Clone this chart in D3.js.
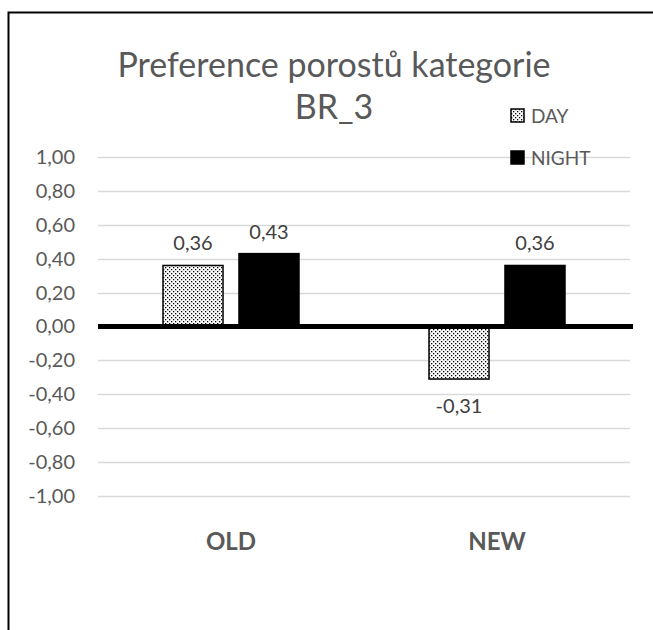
<!DOCTYPE html>
<html>
<head>
<meta charset="utf-8">
<script src="https://cdn.jsdelivr.net/npm/d3@7"></script>
<style>
  body { margin: 0; background: #fff; overflow: hidden; }
  svg { display: block; }
  text { font-family: Lato, "Open Sans", sans-serif; }
</style>
</head>
<body>
<div id="chart"></div>
<script>
// data
var categories = ["OLD", "NEW"];
var seriesNames = ["DAY", "NIGHT"];
var dayValues = [0.36, -0.31];
var nightValues = [0.43, 0.36];
var tickValues = [1, 0.8, 0.6, 0.4, 0.2, 0, -0.2, -0.4, -0.6, -0.8, -1];

var W = 653, H = 630;
var margin = { left: 98, right: 23, top: 157, bottom: 134 };
var width = W - margin.left - margin.right;
var height = 339;

var fmt = function(v) { return d3.format(".2f")(v).replace(".", ",").replace("\u2212", "-"); };

var svg = d3.select("#chart").append("svg")
  .attr("width", W)
  .attr("height", H);

// dotted fill
var defs = svg.append("defs");
var pat = defs.append("pattern")
  .attr("id", "dots")
  .attr("patternUnits", "userSpaceOnUse")
  .attr("width", 4).attr("height", 4);
pat.append("rect").attr("width", 4).attr("height", 4).attr("fill", "#fff");
pat.append("rect").attr("x", 0).attr("y", 0).attr("width", 1.3).attr("height", 1.3).attr("fill", "#000");
pat.append("rect").attr("x", 2).attr("y", 2).attr("width", 1.3).attr("height", 1.3).attr("fill", "#000");

// frame
svg.append("rect")
  .attr("x", 8.5).attr("y", 12.5)
  .attr("width", 700).attr("height", 700)
  .attr("fill", "none").attr("stroke", "#000").attr("stroke-width", 2);

var data = categories.map(function(c, i) {
  return { key: c, pr: [ { key: "DAY", value: dayValues[i] }, { key: "NIGHT", value: nightValues[i] } ] };
});

var x0 = d3.scaleBand().domain(categories).range([0, width]);
var x1 = d3.scaleBand().domain(seriesNames).range([0, 136]).paddingInner(0.21);
var y = d3.scaleLinear().domain([-1, 1]).range([height, 0]);

var g = svg.append("g").attr("transform", "translate(" + margin.left + "," + margin.top + ")");

// gridlines
g.append("g").selectAll("line").data(tickValues.filter(function(d) { return d !== 0; }))
  .enter().append("line")
  .attr("x1", 0).attr("x2", width)
  .attr("y1", function(d) { return Math.round(y(d)) + 0.5; })
  .attr("y2", function(d) { return Math.round(y(d)) + 0.5; })
  .attr("stroke", "#d9d9d9").attr("stroke-width", 1.3);

// y tick labels
var yAxis = d3.axisLeft(y).tickValues(tickValues).tickSize(0).tickPadding(23).tickFormat(fmt);
var ya = g.append("g").call(yAxis);
ya.select(".domain").remove();
ya.selectAll("text").attr("fill", "#595959").style("font-size", "20px").style("font-family", "Lato, sans-serif");

// bars
var periods = g.selectAll(".period").data(data).enter().append("g")
  .attr("class", "period")
  .attr("transform", function(d) { return "translate(" + (x0(d.key) + x0.bandwidth() / 2 - 68) + ",0)"; });

periods.selectAll(".bar").data(function(d) { return d.pr; })
  .enter().append("rect")
  .attr("class", "bar")
  .attr("x", function(d) { return x1(d.key); })
  .attr("y", function(d) { return y(Math.max(0, d.value)); })
  .attr("width", x1.bandwidth())
  .attr("height", function(d) { return Math.abs(y(d.value) - y(0)); })
  .attr("fill", function(d) { return d.key === "DAY" ? "url(#dots)" : "#000"; })
  .attr("stroke", "#000").attr("stroke-width", 1.5);

// value labels
periods.selectAll(".lbl").data(function(d) { return d.pr; })
  .enter().append("text")
  .attr("class", "lbl")
  .attr("x", function(d) { return x1(d.key) + x1.bandwidth() / 2; })
  .attr("y", function(d) { return d.value >= 0 ? y(d.value) - 15 : y(d.value) + 34; })
  .attr("text-anchor", "middle")
  .attr("fill", "#404040")
  .style("font-size", "20px")
  .text(function(d) { return fmt(d.value); });

// zero line
g.append("line")
  .attr("x1", 0).attr("x2", width + 3)
  .attr("y1", y(0)).attr("y2", y(0))
  .attr("stroke", "#000").attr("stroke-width", 5);

// x axis labels
var xAxis = d3.axisBottom(x0).tickSize(0).tickPadding(0);
var xa = g.append("g").attr("transform", "translate(0," + (height + 37) + ")").call(xAxis);
xa.select(".domain").remove();
xa.selectAll("text").attr("fill", "#595959").style("font-size", "24px").style("font-weight", "bold").style("font-family", "Lato, sans-serif");

// title
var title = svg.append("text").attr("text-anchor", "middle").attr("fill", "#595959").style("font-size", "34px");
title.append("tspan").attr("x", 334).attr("y", 77).text("Preference porostů kategorie");
title.append("tspan").attr("x", 334).attr("y", 119).text("BR_3");

// legend
var legend = svg.selectAll(".legend").data(seriesNames).enter().append("g")
  .attr("class", "legend")
  .attr("transform", function(d, i) { return "translate(511," + (109 + i * 42) + ")"; });
legend.append("rect")
  .attr("width", 13).attr("height", 13)
  .attr("fill", function(d) { return d === "DAY" ? "url(#dots)" : "#000"; })
  .attr("stroke", "#000").attr("stroke-width", 1.5);
legend.append("text")
  .attr("x", 20).attr("y", 14)
  .attr("fill", "#595959")
  .style("font-size", "19px")
  .text(function(d) { return d; });
</script>
</body>
</html>
